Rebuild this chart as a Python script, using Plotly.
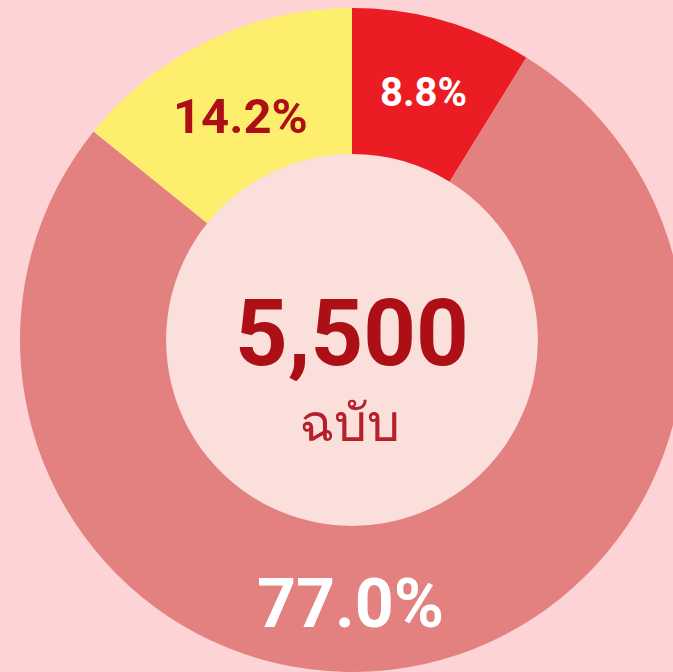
import plotly.graph_objects as go

# ข้อมูล
labels = ["กลุ่ม A", "กลุ่ม B", "กลุ่ม C"]
values = [8.8, 77.0, 14.2]
colors = ["#EC1C24", "#E38080", "#FDEF6D"]
total_text = "5,500"
unit_text = "ฉบับ"

W, H = 700, 680
cx, cy, R = 352, 340, 332   # pixels from top-left
hole = 0.56

fig = go.Figure()
fig.add_trace(go.Pie(
    labels=labels, values=values,
    marker=dict(colors=colors, line=dict(width=0)),
    hole=hole, sort=False, direction="clockwise", rotation=0,
    textinfo="none", hoverinfo="label+percent", showlegend=False,
    domain=dict(x=[(cx - R) / W, (cx + R) / W],
                y=[1 - (cy + R) / H, 1 - (cy - R) / H]),
))

# วงกลมด้านใน
r_in = R * hole
fig.add_shape(type="circle", xref="paper", yref="paper", layer="below",
              x0=(cx - r_in) / W, x1=(cx + r_in) / W,
              y0=1 - (cy + r_in) / H, y1=1 - (cy - r_in) / H,
              fillcolor="#FADFDB", line=dict(width=0))

# ป้ายเปอร์เซ็นต์
label_pos = [(423, 93), (350, 604), (240, 116)]
label_color = ["white", "white", "#AC1016"]
label_size = [40, 68, 49]
for v, (px, py), c, s in zip(values, label_pos, label_color, label_size):
    fig.add_annotation(x=px / W, y=1 - py / H, xref="paper", yref="paper",
                       xanchor="center", yanchor="middle",
                       text=f"<b>{v:.1f}%</b>", showarrow=False,
                       font=dict(family="Roboto", size=s, color=c))

fig.add_annotation(x=352 / W, y=1 - 333 / H, xref="paper", yref="paper",
                   xanchor="center", yanchor="middle",
                   text=f"<b>{total_text}</b>", showarrow=False,
                   font=dict(family="Roboto", size=92, color="#AC1016"))
fig.add_annotation(x=349 / W, y=1 - 420 / H, xref="paper", yref="paper",
                   xanchor="center", yanchor="middle",
                   text=unit_text, showarrow=False,
                   font=dict(family="Noto Sans", size=52, color="#B5202A"))

fig.update_layout(width=W, height=H, autosize=False,
                  margin=dict(l=0, r=0, t=0, b=0),
                  paper_bgcolor="#FDD3D5", plot_bgcolor="#FDD3D5")

fig.write_html("out.html", config={"displayModeBar": False},
               post_script="document.body.style.margin='0';"
                           "document.body.style.overflow='hidden';")
